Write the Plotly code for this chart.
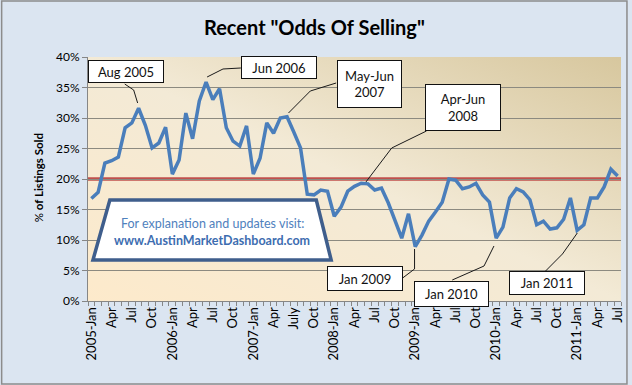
import base64
import plotly.graph_objects as go

# ---------------- data ----------------
months = [f"{y}-{m}" for y in range(2005, 2012) for m in
          ["Jan", "Feb", "Mar", "Apr", "May", "Jun", "Jul", "Aug", "Sep", "Oct", "Nov", "Dec"]][:79]
odds_pct = [
    16.8, 17.8, 22.6, 23.0, 23.6, 28.4, 29.2, 31.6, 28.8, 25.1, 25.9, 28.5,   # 2005
    20.8, 23.1, 30.8, 26.6, 32.8, 35.9, 33.0, 34.8, 28.4, 26.2, 25.4, 28.7,   # 2006
    20.8, 23.4, 29.2, 27.5, 30.0, 30.2, 27.7, 25.1, 17.5, 17.4, 18.2, 18.0,   # 2007
    13.9, 15.4, 18.0, 18.8, 19.3, 19.2, 18.2, 18.5, 16.1, 13.3, 10.3, 14.3,   # 2008
    8.9, 10.8, 13.1, 14.6, 16.2, 20.0, 19.8, 18.4, 18.7, 19.3, 17.4, 16.2,    # 2009
    10.3, 12.1, 16.9, 18.4, 17.9, 16.6, 12.5, 13.1, 11.8, 12.0, 13.4, 16.9,   # 2010
    11.6, 12.5, 16.9, 16.9, 18.7, 21.6, 20.5,                                 # 2011
]
threshold_pct = 20
tick_labels = ["2005-Jan", "Apr", "Jul", "Oct", "2006-Jan", "Apr", "Jul", "Oct",
               "2007-Jan", "Apr", "July", "Oct", "2008-Jan", "Apr", "Jul", "Oct",
               "2009-Jan", "Apr", "Jul", "Oct", "2010-Jan", "Apr", "Jul", "Oct",
               "2011-Jan", "Apr", "Jul"]
y_ticks = [0, 5, 10, 15, 20, 25, 30, 35, 40]

callouts = ["Aug 2005", "Jun 2006", "May-Jun<br>2007", "Apr-Jun<br>2008",
            "Jan 2009", "Jan 2010", "Jan 2011"]

# ---------------- geometry helpers (pixels -> paper) ----------------
W, H = 632, 385
L, R, T, B = 88, 625, 57, 301


def px(x):
    return (x - L) / (R - L)


def py(y):
    return (B - y) / (B - T)


x_idx = list(range(len(months)))

fig = go.Figure()
fig.add_trace(go.Scatter(
    x=x_idx, y=odds_pct, mode="lines",
    line=dict(color="#4a7ebb", width=3.5),
    hovertext=months, hoverinfo="text+y", showlegend=False,
))

shapes = []
# threshold line
shapes.append(dict(type="line", xref="paper", yref="y", x0=0, x1=1,
                   y0=threshold_pct, y1=threshold_pct,
                   line=dict(color="#c0504d", width=3.5), layer="between"))

# callout boxes: (text, x0, y0, x1, y1, leader path points)
boxes = [
    (callouts[0], 88, 60, 164, 83, [(125, 84), (134, 90), (138, 103)]),
    (callouts[1], 242, 56, 318, 79, [(242, 68), (224, 69), (208, 77)]),
    (callouts[2], 339, 60, 404, 108, [(338, 83), (312, 91), (290, 113)]),
    (callouts[3], 428, 84, 504, 131, [(429, 131), (394, 148), (368, 182)]),
    (callouts[4], 329, 266, 405, 291, [(405, 278), (417, 269), (417, 249)]),
    (callouts[5], 417, 281, 492, 307, [(455, 280), (487, 266), (497, 246)]),
    (callouts[6], 512, 271, 588, 295, [(549, 271), (566, 254), (581, 233)]),
]
annotations = []
for text, x0, y0, x1, y1, pts in boxes:
    path = "M " + " L ".join(f"{px(a):.5f},{py(b):.5f}" for a, b in pts)
    shapes.append(dict(type="path", xref="paper", yref="paper", path=path,
                       line=dict(color="#1a1a1a", width=1), layer="above"))
    annotations.append(dict(
        xref="paper", yref="paper", x=px((x0 + x1) / 2), y=py((y0 + y1) / 2),
        xanchor="center", yanchor="middle", text=text, showarrow=False,
        font=dict(family="Lato", size=13, color="#111111"),
        bgcolor="white", bordercolor="#111111", borderwidth=1, borderpad=0,
        width=x1 - x0 - 2, height=y1 - y0 - 2,
    ))

# info trapezoid
trap = [(110, 200), (318, 200), (333, 260), (93, 260)]
shapes.append(dict(type="path", xref="paper", yref="paper",
                   path="M " + " L ".join(f"{px(a):.5f},{py(b):.5f}" for a, b in trap) + " Z",
                   fillcolor="white", line=dict(color="#3f5e8c", width=3.5), layer="above"))
annotations.append(dict(xref="paper", yref="paper", x=px(213), y=py(224),
                        xanchor="center", yanchor="middle", showarrow=False,
                        text="For explanation and updates visit:",
                        font=dict(family="Lato", size=12.5, color="#4f81bd")))
annotations.append(dict(xref="paper", yref="paper", x=px(213), y=py(240),
                        xanchor="center", yanchor="middle", showarrow=False,
                        text="<b>www.AustinMarketDashboard.com</b>",
                        font=dict(family="Lato", size=12.5, color="#3d6db0")))

# title and y-axis title
annotations.append(dict(xref="paper", yref="paper", x=px(316), y=py(27),
                        xanchor="center", yanchor="middle", showarrow=False,
                        text="<b>Recent \"Odds Of Selling\"</b>",
                        font=dict(family="Lato", size=20, color="#000000")))
annotations.append(dict(xref="paper", yref="paper", x=px(38), y=py(178),
                        xanchor="center", yanchor="middle", showarrow=False,
                        textangle=-90, text="% <b>of Listings Sold</b>",
                        font=dict(family="Lato", size=11.5, color="#000000")))

# outer border
shapes.append(dict(type="rect", xref="paper", yref="paper",
                   x0=px(1), x1=px(631), y0=py(1), y1=py(384),
                   line=dict(color="#8c8c8c", width=1.5), layer="above"))

# gradient plot background
svg = ("<svg xmlns='http://www.w3.org/2000/svg' width='537' height='244' "
       "viewBox='0 0 537 244' preserveAspectRatio='none'>"
       "<defs><linearGradient id='g' x1='0' y1='1' x2='1' y2='0'>"
       "<stop offset='0' stop-color='#fdeacb'/>"
       "<stop offset='0.5' stop-color='#f3ead6'/>"
       "<stop offset='1' stop-color='#d7c79e'/>"
       "</linearGradient></defs>"
       "<rect width='537' height='244' fill='url(#g)'/></svg>")
src = "data:image/svg+xml;base64," + base64.b64encode(svg.encode()).decode()

fig.update_layout(
    width=W, height=H,
    margin=dict(l=L, r=W - R, t=T, b=H - B, pad=0),
    paper_bgcolor="#dbe5f1", plot_bgcolor="#f2e8d0",
    images=[dict(source=src, xref="paper", yref="paper", x=0, y=1, sizex=1, sizey=1,
                 sizing="stretch", xanchor="left", yanchor="top", layer="below")],
    shapes=shapes, annotations=annotations,
    xaxis=dict(range=[-0.5, len(months) - 0.5], tickmode="array",
               tickvals=x_idx[::3], ticktext=tick_labels, tickangle=-90,
               ticks="", showgrid=False, zeroline=False,
               showline=True, linecolor="#868686", linewidth=1,
               tickfont=dict(family="Lato", size=13, color="#000000"),
               minor=dict(tickmode="linear", tick0=-0.5, dtick=1, ticks="outside",
                          ticklen=4, tickcolor="#868686", showgrid=False)),
    yaxis=dict(range=[0, 40], tickmode="array", tickvals=y_ticks,
               ticktext=[f"{v}%" for v in y_ticks], ticks="outside", ticklen=5,
               tickcolor="#868686", showgrid=True, gridcolor="#8c8a80", gridwidth=1,
               zeroline=False, showline=True, linecolor="#868686", linewidth=1,
               tickfont=dict(family="Lato", size=12, color="#000000")),
    showlegend=False,
)

fig.write_html("out.html",
               config={"displayModeBar": False},
               post_script="document.body.style.margin='0';"
                           "document.body.style.overflow='hidden';")
